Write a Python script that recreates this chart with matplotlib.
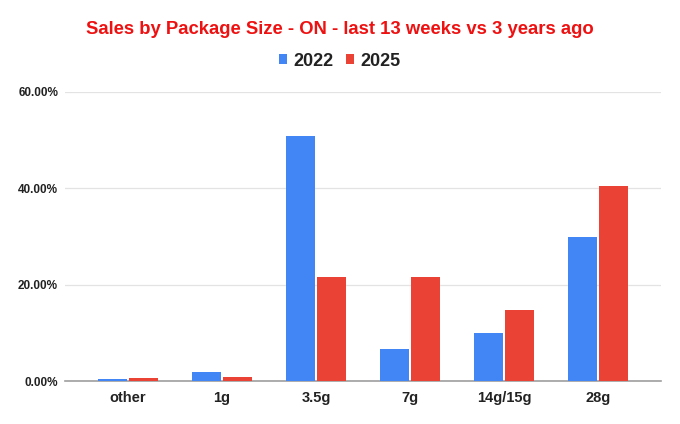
import matplotlib
matplotlib.use("Agg")
import matplotlib.pyplot as plt
import numpy as np
from matplotlib.ticker import FuncFormatter

categories = ["other", "1g", "3.5g", "7g", "14g/15g", "28g"]
sales_2022 = [0.35, 1.9, 50.9, 6.6, 10.0, 30.0]
sales_2025 = [0.6, 0.9, 21.5, 21.6, 14.8, 40.4]
y_ticks = [0, 20, 40, 60]

plt.rcParams['font.family'] = ['Liberation Sans', 'DejaVu Sans']

fig = plt.figure(figsize=(6.8, 4.24), dpi=100)
ax = fig.add_axes([65/680, 1-381/424, (661-65)/680, (381-92)/424])

x = np.arange(len(categories))
w = 0.31
off = 0.165
b1 = ax.bar(x - off, sales_2022, w, color="#4285F4", label="2022", zorder=3)
b2 = ax.bar(x + off, sales_2025, w, color="#EA4335", label="2025", zorder=3)

ax.set_xlim(-0.67, len(categories) - 1 + 0.67)
ax.set_ylim(0, 60)
ax.set_yticks(y_ticks)
ax.yaxis.set_major_formatter(FuncFormatter(lambda v, p: f"{v:.2f}%"))
ax.set_xticks(x)
ax.set_xticklabels(categories, fontsize=10.5, fontweight='bold', color='#222222')
for lab in ax.get_yticklabels():
    lab.set_fontsize(8.5)
    lab.set_fontweight('bold')
    lab.set_color('#222222')
ax.tick_params(axis='both', length=0)
ax.tick_params(axis='x', pad=7)
ax.tick_params(axis='y', pad=5)
ax.grid(axis='y', color='#e3e3e3', linewidth=0.9, zorder=0)
for s in ['top', 'right', 'left']:
    ax.spines[s].set_visible(False)
ax.spines['bottom'].set_color('#9e9e9e')
ax.spines['bottom'].set_linewidth(1.2)
ax.spines['bottom'].set_zorder(2)

fig.text(340/680, 1-29.5/424, "Sales by Package Size - ON - last 13 weeks vs 3 years ago",
         ha='center', va='center', fontsize=13.3, fontweight='bold', color='#ee1111')

leg = fig.legend(handles=[b1, b2], labels=["2022", "2025"], loc='center',
                 bbox_to_anchor=(340/680, 1-61/424), ncol=2, frameon=False,
                 prop={'size': 13, 'weight': 'bold'}, handlelength=0.45, handleheight=0.45,
                 handletextpad=0.35, columnspacing=0.7, labelcolor='#222222')

fig.savefig("out.png", dpi=100, facecolor='white')
